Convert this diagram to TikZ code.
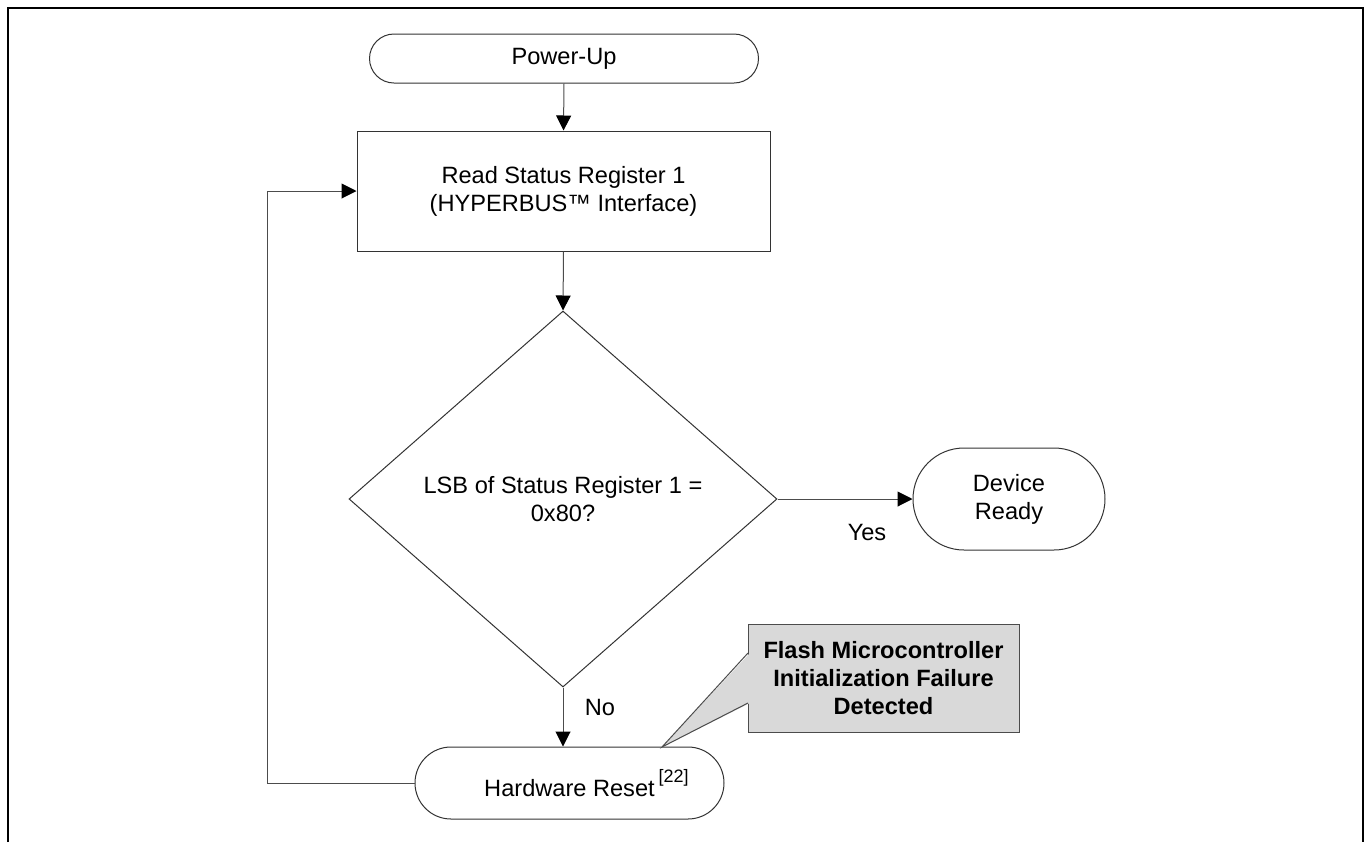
\documentclass[tikz,border=0pt]{standalone}
\usepackage{fontspec}
\setmainfont{Liberation Sans}
\usetikzlibrary{calc}
\usetikzlibrary{arrows.meta}
\usetikzlibrary{shapes.geometric}
\usetikzlibrary{shapes.misc}

\tikzset{
  flowline/.style={draw=black!70, line width=0.5pt},
  flowarrow/.style={flowline, -{Triangle[length=7.5pt,width=7.5pt,color=black]}},
  terminal/.style={rounded rectangle, draw=black!80, line width=0.5pt, fill=white,
    inner sep=0pt, align=center, font=\fontsize{11.8}{14}\selectfont},
  process/.style={rectangle, draw=black!80, line width=0.5pt, fill=white,
    inner sep=0pt, align=center, font=\fontsize{11.8}{14}\selectfont},
  decision/.style={diamond, draw=black!80, line width=0.5pt, fill=white,
    inner sep=0pt, align=center, font=\fontsize{11.8}{14}\selectfont},
  notebox/.style={rectangle, draw=black!70, line width=0.5pt, fill=gray!30,
    inner sep=0pt, align=center, font=\fontsize{11.8}{14.2}\selectfont\bfseries},
  flowlabel/.style={inner sep=0pt, font=\fontsize{11.8}{14}\selectfont}
}

\begin{document}
\begin{tikzpicture}[x=0.5pt, y=-0.5pt]
    \useasboundingbox (0,0) rectangle (1367,842);

    % page frame, open at the bottom
    \draw [line width=1.4pt] (8,842) -- (8,8) -- (1363,8) -- (1363,842);

    % flow chart shapes
    \node [terminal, minimum width=194.5pt, minimum height=24.5pt] (pwr) at (564,58.5) {Power-Up};
    \node [process, minimum width=206.5pt, minimum height=60pt] (rdsr) at (563.5,191)
        {Read Status Register 1\\(HYPERBUS™ Interface)};
    \node [decision, minimum width=214pt, minimum height=188pt] (lsb) at (563,499)
        {LSB of Status Register 1 =\\0x80?};
    \node [terminal, minimum width=96pt, minimum height=51pt] (ready) at (1009,499) {Device\\Ready};
    \node [terminal, minimum width=154.5pt, minimum height=36pt] (reset) at (569.5,783)
        {Hardware Reset\rlap{\,\raisebox{7pt}{\fontsize{9}{10}\selectfont[22]}}};

    % connectors
    \draw [flowarrow] (pwr.south) -- (rdsr.north);
    \draw [flowarrow] (rdsr.south) -- (lsb.north);
    \draw [flowarrow] (lsb.east) -- (ready.west);
    \draw [flowarrow] (lsb.south) -- (lsb.south |- reset.north);
    \coordinate (loop) at (267,783);
    \draw [flowarrow] (reset.west) -- (loop) |- (rdsr.west);

    % branch labels
    \node [flowlabel] (yes) at (867,532) {Yes};
    \node [flowlabel] (no) at (600,707) {No};

    % callout
    \node [notebox, minimum width=135.5pt, minimum height=54pt] (fail) at (883.5,678)
        {Flash Microcontroller\\Initialization Failure\\Detected};
    \coordinate (tip) at (662,747);
    \coordinate (wtop) at (748,653);
    \coordinate (wbot) at (748,703);
    \fill [gray!30] ($(wtop)+(2,0)$) -- (tip) -- ($(wbot)+(2,0)$) -- cycle;
    \draw [draw=black!70, line width=0.5pt] (wtop) -- (tip) -- (wbot);

\end{tikzpicture}
\end{document}
